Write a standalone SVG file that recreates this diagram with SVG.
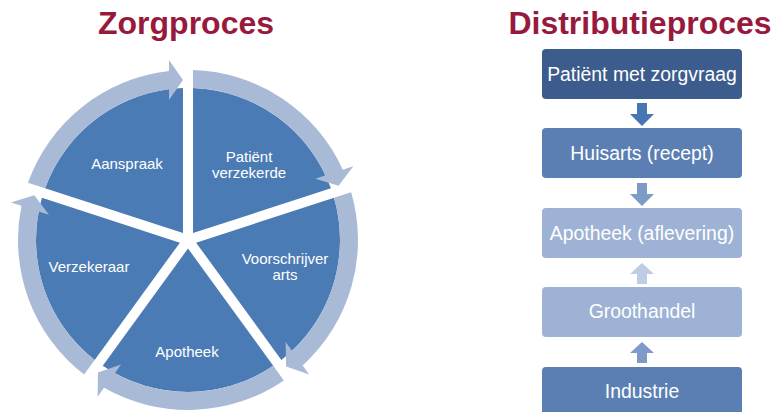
<svg xmlns="http://www.w3.org/2000/svg" xmlns:xlink="http://www.w3.org/1999/xlink" width="778" height="412" viewBox="0 0 778 412">
<style>
.title{font-family:"Liberation Sans",Arial,sans-serif;font-weight:bold;font-size:32px;fill:#971A3D;text-anchor:middle}
.seg{fill:#4B7BB5}
.ring{fill:#A9BAD7}
.lbl{font-family:"Liberation Sans",Arial,sans-serif;font-size:15px;fill:#FFFFFF;text-anchor:middle}
.box-t{font-family:"Liberation Sans",Arial,sans-serif;font-size:19.4px;fill:#FFFFFF;text-anchor:middle}
</style>
<defs>
<path id="sector" d="M 183 233.12 L 45.06 188.30 A 152 152 0 0 1 183 88.08 Z"/>
<path id="ringarrow" d="M 27.93 182.73 A 170 170 0 0 1 169 71.06 L 169 60 L 183 80 L 169 100 L 169 89.19 A 152 152 0 0 0 45.06 188.30 Z"/>
<path id="down" d="M -5 0 H 5 V 11 H 12 L 0 23 L -12 11 H -5 Z"/>
<path id="up" d="M -5 0 H 5 V -10 H 12 L 0 -21 L -12 -10 H -5 Z"/>
</defs>
<rect width="778" height="412" fill="#FFFFFF"/>
<text class="title" x="186" y="34">Zorgproces</text>
<text class="title" x="640" y="34">Distributieproces</text>

<g id="node-aanspraak">
<use xlink:href="#sector" class="seg"/>
<text class="lbl" x="127" y="169">Aanspraak</text>
</g>
<g id="node-patient-verzekerde">
<use xlink:href="#sector" class="seg" transform="rotate(72 188 240)"/>
<text class="lbl" x="249" y="162">Patiënt</text>
<text class="lbl" x="249" y="178">verzekerde</text>
</g>
<g id="node-voorschrijver-arts">
<use xlink:href="#sector" class="seg" transform="rotate(144 188 240)"/>
<text class="lbl" x="285" y="264">Voorschrijver</text>
<text class="lbl" x="285" y="280">arts</text>
</g>
<g id="node-apotheek">
<use xlink:href="#sector" class="seg" transform="rotate(216 188 240)"/>
<text class="lbl" x="187" y="357">Apotheek</text>
</g>
<g id="node-verzekeraar">
<use xlink:href="#sector" class="seg" transform="rotate(288 188 240)"/>
<text class="lbl" x="89" y="272">Verzekeraar</text>
</g>

<g id="connectors">
<use xlink:href="#ringarrow" class="ring"/>
<use xlink:href="#ringarrow" class="ring" transform="rotate(72 188 240)"/>
<use xlink:href="#ringarrow" class="ring" transform="rotate(144 188 240)"/>
<use xlink:href="#ringarrow" class="ring" transform="rotate(216 188 240)"/>
<use xlink:href="#ringarrow" class="ring" transform="rotate(288 188 240)"/>
<use xlink:href="#down" fill="#4876B3" transform="translate(642 103)"/>
<use xlink:href="#down" fill="#7E9BC8" transform="translate(642 183)"/>
<use xlink:href="#up" fill="#BECDE3" transform="translate(642 284)"/>
<use xlink:href="#up" fill="#7E9BC8" transform="translate(642 363)"/>
</g>

<g id="node-patient-zorgvraag">
<rect x="542" y="49" width="200" height="50" rx="4" fill="#3B5C8C"/>
<text class="box-t" x="642" y="81">Patiënt met zorgvraag</text>
</g>
<g id="node-huisarts">
<rect x="542" y="128" width="200" height="50" rx="4" fill="#5B7FB3"/>
<text class="box-t" x="642" y="160">Huisarts (recept)</text>
</g>
<g id="node-apotheek-aflevering">
<rect x="542" y="208" width="200" height="50" rx="4" fill="#9DB2D4"/>
<text class="box-t" x="642" y="240">Apotheek (aflevering)</text>
</g>
<g id="node-groothandel">
<rect x="542" y="287" width="200" height="50" rx="4" fill="#9DB2D4"/>
<text class="box-t" x="642" y="318">Groothandel</text>
</g>
<g id="node-industrie">
<rect x="542" y="367" width="200" height="50" rx="4" fill="#5B7FB3"/>
<text class="box-t" x="642" y="398">Industrie</text>
</g>
</svg>
